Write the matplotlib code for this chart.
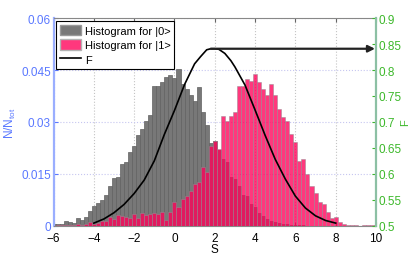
import numpy as np
import matplotlib
matplotlib.use('Agg')
import matplotlib.pyplot as plt
from matplotlib.patches import Patch
from matplotlib.lines import Line2D

plt.rcParams['font.family'] = ['Liberation Sans', 'DejaVu Sans']

# ---------------- data ----------------
bin_centers = np.linspace(-6, 10, 81)  # histogram bin centers, width 0.2

hist0 = [0.0004, 0.0004, 0.0005, 0.0013, 0.0012, 0.0008, 0.0021, 0.0016, 0.0025, 0.0043,
         0.0058, 0.0065, 0.0075, 0.0090, 0.0116, 0.0138, 0.0141, 0.0178, 0.0185, 0.0213,
         0.0229, 0.0262, 0.0279, 0.0303, 0.0321, 0.0403, 0.0403, 0.0416, 0.0431, 0.0436,
         0.0428, 0.0453, 0.0410, 0.0395, 0.0378, 0.0360, 0.0400, 0.0328, 0.0290, 0.0239,
         0.0244, 0.0218, 0.0193, 0.0185, 0.0142, 0.0135, 0.0116, 0.0090, 0.0087, 0.0062,
         0.0055, 0.0036, 0.0029, 0.0020, 0.0014, 0.0011, 0.0007, 0.0005, 0.0004, 0.0003,
         0.0003, 0.0002, 0.0001, 0, 0, 0, 0, 0, 0, 0,
         0, 0, 0, 0, 0, 0, 0, 0, 0, 0, 0]

hist1 = [0.0000, 0.0001, 0.0001, 0.0002, 0.0001, 0.0003, 0.0004, 0.0003, 0.0006, 0.0012,
         0.0005, 0.0009, 0.0014, 0.0015, 0.0024, 0.0019, 0.0032, 0.0029, 0.0025, 0.0022,
         0.0034, 0.0021, 0.0037, 0.0031, 0.0034, 0.0037, 0.0034, 0.0039, 0.0016, 0.0041,
         0.0068, 0.0055, 0.0077, 0.0085, 0.0101, 0.0120, 0.0125, 0.0169, 0.0154, 0.0229,
         0.0246, 0.0221, 0.0318, 0.0304, 0.0316, 0.0330, 0.0405, 0.0405, 0.0423, 0.0419,
         0.0438, 0.0414, 0.0395, 0.0378, 0.0411, 0.0377, 0.0338, 0.0315, 0.0303, 0.0265,
         0.0241, 0.0188, 0.0193, 0.0149, 0.0114, 0.0094, 0.0069, 0.0063, 0.0040, 0.0021,
         0.0024, 0.0010, 0.0004, 0.0002, 0.0001, 0.0001, 0.0000, 0.0001, 0.0002, 0.0002,
         0.0003]

f_x = [-4.0, -3.5, -3.0, -2.5, -2.0, -1.5, -1.0, -0.5, 0.0, 0.5, 1.0, 1.3, 1.6, 1.8,
       2.0, 2.2, 2.5, 2.8, 3.0, 3.5, 4.0, 4.5, 5.0, 5.5, 6.0, 6.5, 7.0, 7.5, 8.0]
f_val = [0.505, 0.513, 0.525, 0.541, 0.562, 0.588, 0.625, 0.676, 0.722, 0.772, 0.812,
         0.826, 0.839, 0.841, 0.841, 0.840, 0.832, 0.818, 0.806, 0.771, 0.723, 0.674,
         0.628, 0.590, 0.557, 0.534, 0.519, 0.510, 0.505]

x_ticks = [-6, -4, -2, 0, 2, 4, 6, 8, 10]
left_ticks = [0, 0.015, 0.03, 0.045, 0.06]
right_ticks = [0.5, 0.55, 0.6, 0.65, 0.7, 0.75, 0.8, 0.85, 0.9]

# ---------------- style ----------------
blue = '#5a78ff'
green = '#3cb82a'
gray_face = (0.47, 0.47, 0.47)
pink_face = (1.0, 0.0, 0.35, 0.78)

fig = plt.figure(figsize=(4.15, 2.55), dpi=100)
ax = fig.add_axes([0.129, 0.111, 0.777, 0.814])

ax.bar(bin_centers, hist0, width=0.2, color=gray_face, edgecolor=(0.38, 0.38, 0.38),
       linewidth=0.5, zorder=2)
ax.bar(bin_centers, hist1, width=0.2, color=pink_face, edgecolor=(0.6, 0.55, 0.58, 0.7),
       linewidth=0.5, zorder=3)

ax.set_xlim(-6, 10)
ax.set_ylim(0, 0.06)
ax.set_xticks(x_ticks)
ax.set_xticklabels(['\u22126', '\u22124', '\u22122', '0', '2', '4', '6', '8', '10'])
ax.set_yticks(left_ticks)
ax.set_yticklabels(['0', '0.015', '0.03', '0.045', '0.06'])
ax.tick_params(axis='x', direction='in', top=True, length=3, labelsize=8.5, pad=4.5,
               color='#666666')
ax.tick_params(axis='y', direction='in', length=3, labelsize=8.5, pad=2,
               colors=blue)
ax.set_axisbelow(True)
ax.xaxis.grid(True, linestyle=':', color='#c4c4c4', linewidth=0.8)
ax.yaxis.grid(True, linestyle=':', color='#c6c6f0', linewidth=0.8)
ax.set_xlabel('S', fontsize=8.5, labelpad=-1)
ax.set_ylabel('$\\mathregular{N/N_{tot}}$', fontsize=8.5, color=blue, labelpad=2)

ax.spines['left'].set_color('#9aaeff')
ax.spines['left'].set_linewidth(1.6)
ax.spines['top'].set_color('#888888')
ax.spines['bottom'].set_color('#888888')
ax.spines['right'].set_visible(False)

ax2 = ax.twinx()
ax2.plot(f_x, f_val, color='black', linewidth=1.2, zorder=5)
ax2.set_ylim(0.5, 0.9)
ax2.set_yticks(right_ticks)
ax2.set_yticklabels(['0.5', '0.55', '0.6', '0.65', '0.7', '0.75', '0.8', '0.85', '0.9'])
ax2.tick_params(axis='y', direction='in', length=3, labelsize=8.5, pad=2, colors=green)
ax2.set_ylabel('F', fontsize=8, color=green, labelpad=-1)
for s in ['left', 'top', 'bottom']:
    ax2.spines[s].set_visible(False)
ax2.spines['right'].set_color('#8cc0a4')
ax2.spines['right'].set_linewidth(1.6)

# arrow from the maximum of F to the right axis
imax = int(np.argmax(f_val))
ax2.annotate('', xy=(ax.get_xlim()[1] - 0.05, f_val[imax]),
             xytext=(f_x[imax], f_val[imax]),
             arrowprops=dict(arrowstyle='-|>', color='#222222', lw=1.6,
                             mutation_scale=10, shrinkA=0, shrinkB=0), zorder=6)

handles = [Patch(facecolor=gray_face, edgecolor=(0.6, 0.6, 0.6)),
           Patch(facecolor=pink_face, edgecolor=(0.7, 0.7, 0.7)),
           Line2D([0], [0], color='black', lw=1.2)]
labels = ['Histogram for |0>', 'Histogram for |1>', 'F']
leg = ax2.legend(handles, labels, loc='upper left', fontsize=8, frameon=True,
                 fancybox=False, edgecolor='black', framealpha=1,
                 borderaxespad=0.25, handlelength=1.9, handleheight=1.1,
                 handletextpad=0.3, labelspacing=0.3, borderpad=0.35)
leg.get_frame().set_linewidth(0.8)
leg.set_zorder(10)

fig.savefig('out.png', dpi=100)
